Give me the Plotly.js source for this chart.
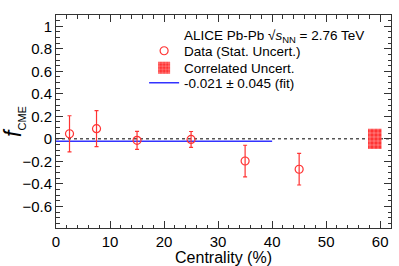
<!DOCTYPE html>
<html>
<head>
<meta charset="utf-8">
<script src="https://cdn.plot.ly/plotly-3.0.1.min.js"></script>
<style>html,body{margin:0;padding:0;background:#fff;}#chart{width:399px;height:266px;}</style>
</head>
<body>
<div id="chart"></div>
<script>
// Data
var centrality = [2.5, 7.5, 15, 25, 35, 45];
var fCME = [0.045, 0.09, -0.013, -0.005, -0.197, -0.27];
var statErr = [0.16, 0.16, 0.08, 0.07, 0.14, 0.14];
var corrX = [59];
var corrLow = [-0.09];
var corrHigh = [0.09];
var fitX = [0, 40];
var fitValue = -0.021;
var fitLabel = "-0.021 ± 0.045 (fit)";

var red = '#ff3333';
var font = 'Liberation Sans, Arial, sans-serif';

var traces = [
  {
    type: 'bar', x: corrX, base: corrLow,
    y: corrHigh.map(function(h, i){ return h - corrLow[i]; }),
    width: 2.5, name: 'Correlated Uncert.', legend: 'legend2',
    marker: {color: red, line: {width: 0},
      pattern: {shape: '+', fgcolor: '#ffffff', bgcolor: red, size: 4, solidity: 0.15}}
  },
  {
    type: 'scatter', mode: 'lines', x: fitX, y: fitX.map(function(){ return fitValue; }),
    name: fitLabel, legend: 'legend3',
    line: {color: '#3333ff', width: 1.5}
  },
  {
    type: 'scatter', mode: 'markers', x: centrality, y: fCME,
    name: 'Data (Stat. Uncert.)', legend: 'legend',
    marker: {symbol: 'circle-open', size: 8, color: red, line: {width: 1.2, color: red}},
    error_y: {type: 'data', array: statErr, visible: true, color: red, thickness: 1.2, width: 2}
  }
];

var axisCommon = {
  showgrid: false, zeroline: false, showline: true, linecolor: '#333', linewidth: 1,
  mirror: 'allticks', ticks: 'inside', ticklen: 7, tickcolor: '#333', tickwidth: 1,
  tickfont: {family: font, size: 15, color: '#000'}
};

function leg(y) {
  return {
    x: 0.263, y: y, xanchor: 'left', yanchor: 'middle',
    bgcolor: 'rgba(0,0,0,0)', borderwidth: 0,
    font: {family: font, size: 13.5, color: '#000'},
    itemwidth: 30
  };
}

var layout = {
  width: 399, height: 266,
  margin: {l: 56, r: 8, t: 15, b: 38},
  paper_bgcolor: '#fff', plot_bgcolor: '#fff',
  font: {family: font, color: '#000'},
  xaxis: Object.assign({}, axisCommon, {
    range: [0, 62], dtick: 10, tick0: 0,
    minor: {dtick: 2, ticks: 'inside', ticklen: 3.5, tickcolor: '#333'},
    title: {text: 'Centrality (%)', font: {family: font, size: 16}, standoff: 3}
  }),
  yaxis: Object.assign({}, axisCommon, {
    range: [-0.792, 1.1], dtick: 0.2, tick0: 0,
    minor: {dtick: 0.05, ticks: 'inside', ticklen: 3.5, tickcolor: '#333'},
    title: {text: '<i>f</i><sub><span style="font-size:11px">CME</span></sub>', font: {family: font, size: 23}, standoff: 6}
  }),
  showlegend: true,
  legend: leg(0.831),
  legend2: leg(0.751),
  legend3: leg(0.681),
  shapes: [
    {type: 'line', xref: 'paper', x0: 0, x1: 1, yref: 'y', y0: 0, y1: 0,
     line: {color: '#000', width: 1, dash: 'dot'}, layer: 'below'}
  ],
  annotations: [
    {xref: 'paper', yref: 'paper', x: 0.375, y: 0.9, xanchor: 'left', yanchor: 'middle',
     showarrow: false, text: 'ALICE Pb-Pb √<i>s</i><sub>NN</sub> = 2.76 TeV',
     font: {family: font, size: 13.5, color: '#000'}}
  ]
};

Plotly.newPlot('chart', traces, layout, {displayModeBar: false, staticPlot: true});
</script>
</body>
</html>
